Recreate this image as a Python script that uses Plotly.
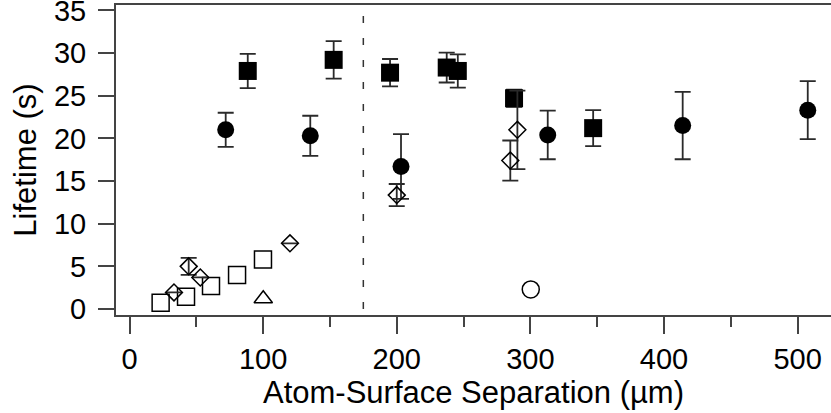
import plotly.graph_objects as go

# ---- data ----
fsq_x = [88.5, 152.8, 195, 237.4, 245.7, 287.8, 347]
fsq_y = [27.9, 29.2, 27.7, 28.3, 27.9, 24.7, 21.2]
fsq_e = [2.0, 2.2, 1.6, 1.75, 1.95, 1.0, 2.1]

fci_x = [72, 135.3, 203.2, 313, 414, 507.6]
fci_y = [21.0, 20.3, 16.7, 20.4, 21.5, 23.3]
fci_e = [2.0, 2.35, 3.8, 2.85, 3.95, 3.4]

osq_x = [23.3, 42.3, 61, 80.5, 99.9]
osq_y = [0.74, 1.44, 2.7, 4.0, 5.8]

odi_x = [33.3, 44.3, 53, 120.1, 200, 285, 290.3]
odi_y = [1.95, 5.0, 3.7, 7.7, 13.35, 17.4, 21.0]
odi_e = [0, 1.0, 0, 0, 1.3, 2.35, 4.6]

otr_x = [100.1]
otr_y = [1.2]

oci_x = [300.3]
oci_y = [2.3]

divider_x = 175
x_ticks = [0, 100, 200, 300, 400, 500]
y_ticks = [0, 5, 10, 15, 20, 25, 30, 35]
x_range = [-10.1, 525.0]
y_range = [-0.70, 35.63]

FONT = "Liberation Sans, Arial, Helvetica, sans-serif"
ERRC = "#2a2a2a"
AXC = "#444444"

def err(vals):
    return dict(type="data", array=vals, visible=True, color=ERRC,
                thickness=1.8, width=8)

fig = go.Figure()

fig.add_trace(go.Scatter(x=osq_x, y=osq_y, mode="markers",
    marker=dict(symbol="square-open", size=17, color="black",
                line=dict(width=1.5, color="black"))))
fig.add_trace(go.Scatter(x=otr_x, y=otr_y, mode="markers",
    marker=dict(symbol="triangle-up-open", size=16, color="black",
                line=dict(width=1.5, color="black"))))
fig.add_trace(go.Scatter(x=oci_x, y=oci_y, mode="markers",
    marker=dict(symbol="circle-open", size=17, color="black",
                line=dict(width=1.5, color="black"))))
fig.add_trace(go.Scatter(x=fsq_x, y=fsq_y, mode="markers", error_y=err(fsq_e),
    marker=dict(symbol="square", size=18, color="black",
                line=dict(width=0))))
fig.add_trace(go.Scatter(x=fci_x, y=fci_y, mode="markers", error_y=err(fci_e),
    marker=dict(symbol="circle", size=17, color="black",
                line=dict(width=0))))
fig.add_trace(go.Scatter(x=odi_x, y=odi_y, mode="markers", error_y=err(odi_e),
    marker=dict(symbol="diamond-open", size=13, color="black",
                line=dict(width=1.5, color="black"))))

fig.add_shape(type="line", xref="x", yref="y",
              x0=divider_x, x1=divider_x, y0=0, y1=y_range[1],
              line=dict(color="#333333", width=1.5, dash="7px,15px"))

fig.update_layout(
    width=831, height=413,
    margin=dict(l=116, r=0, t=5, b=98),
    paper_bgcolor="white", plot_bgcolor="white",
    showlegend=False,
    font=dict(family=FONT, color="black", size=29),
)

fig.update_xaxes(
    range=x_range, tickmode="array", tickvals=x_ticks,
    ticktext=[str(v) for v in x_ticks], automargin=False,
    ticks="outside", ticklen=17, tickwidth=1.5, tickcolor=AXC,
    showline=True, linecolor=AXC, linewidth=2, mirror=True,
    showgrid=False, zeroline=False,
    tickfont=dict(size=29, family=FONT, color="black"),
    ticklabeloverflow="allow",
    minor=dict(dtick=50, tick0=0, ticks="outside", ticklen=10,
               tickwidth=1.5, tickcolor=AXC, showgrid=False),
    title=dict(text="Atom-Surface Separation (µm)",
               font=dict(size=31, family=FONT, color="black"), standoff=6),
)
fig.update_yaxes(
    range=y_range, tickmode="array", tickvals=y_ticks,
    ticktext=[str(v) for v in y_ticks], automargin=False,
    ticks="outside", ticklen=16, tickwidth=1.5, tickcolor=AXC,
    showline=True, linecolor=AXC, linewidth=2, mirror=False,
    showgrid=False, zeroline=False,
    tickfont=dict(size=29, family=FONT, color="black"),
    ticklabeloverflow="allow", ticklabelstandoff=6,
    title=dict(text="Lifetime (s)",
               font=dict(size=31, family=FONT, color="black"), standoff=8),
)

fig.write_html("out.html")
